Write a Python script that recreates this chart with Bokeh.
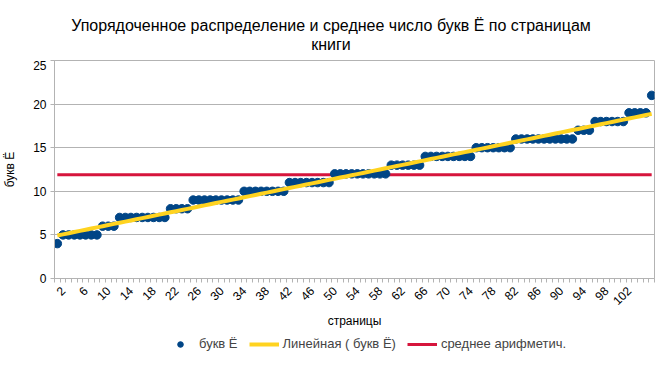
import numpy as np
from bokeh.plotting import figure
from bokeh.layouts import column
from bokeh.models import (ColumnDataSource, FixedTicker, Label, Legend, LegendItem, Range1d)
from bokeh.embed import file_html
from bokeh.resources import INLINE

# ---- data ----
pages = list(range(1, 107))
letters = ([4] + [5] * 7 + [6] * 3 + [7] * 9 + [8] * 4 + [9] * 9 + [10] * 8 + [11] * 8 +
           [12] * 10 + [13] * 6 + [14] * 9 + [15] * 7 + [16] * 11 + [17] * 3 +
           [18] * 6 + [19] * 4 + [21])
x_tick_labels = list(range(2, 103, 4))
y_ticks = [0, 5, 10, 15, 20, 25]
title_lines = ["Упорядоченное распределение и среднее число букв Ё по страницам", "книги"]
series_names = ["букв Ё", "Линейная ( букв Ё)", "среднее арифметич."]

FONT = "Liberation Sans"
BLUE = "#004586"
YELLOW = "#ffd320"
RED = "#d6153c"
GRID = "#b3b3b3"
W = 649

x = np.array(pages, dtype=float)
y = np.array(letters, dtype=float)
k, b = np.polyfit(x, y, 1)
trend = k * x + b
mean_val = float(y.mean())
src = ColumnDataSource(dict(x=x, y=y, trend=trend, mean=[mean_val] * len(x)))

# ---------- title strip ----------
pt = figure(width=W, height=60, output_backend="svg", toolbar_location=None,
            x_axis_type=None, y_axis_type=None, min_border=0,
            x_range=Range1d(0, 1), y_range=Range1d(0, 1))
pt.outline_line_color = None
pt.grid.visible = False
for txt, yy in zip(title_lines, (35, 16)):
    pt.add_layout(Label(x=276.5, y=yy, x_units="screen", y_units="screen", text=txt,
                        text_align="center", text_baseline="middle",
                        text_font=FONT, text_font_size="16px", text_color="#000000"))

# ---------- main plot ----------
p = figure(frame_width=600, frame_height=218, output_backend="svg", toolbar_location=None,
           x_range=Range1d(0.5, len(pages) + 0.5), y_range=Range1d(0, 25),
           min_border_left=44, min_border_right=5, min_border_top=0, min_border_bottom=57)

r_mean = p.line("x", "mean", source=src, line_color=RED, line_width=3)
r_pts = p.scatter("x", "y", source=src, size=8.5, marker="circle",
                  fill_color=BLUE, line_color=BLUE)
r_trend = p.line("x", "trend", source=src, line_color=YELLOW, line_width=4)

xt = FixedTicker(ticks=x_tick_labels,
                 minor_ticks=[i + 0.5 for i in range(0, len(pages) + 1)])
p.xaxis.ticker = xt
p.xaxis.major_tick_line_color = None
p.xaxis.minor_tick_out = 4
p.xaxis.minor_tick_in = 0
p.xaxis.minor_tick_line_color = GRID
p.xaxis.major_label_orientation = np.pi / 4
p.xaxis.axis_label = "страницы"
p.yaxis.ticker = FixedTicker(ticks=y_ticks)
p.yaxis.minor_tick_line_color = None
p.yaxis.major_tick_out = 4
p.yaxis.major_tick_in = 0
p.yaxis.major_tick_line_color = GRID
p.yaxis.axis_label = "букв Ё"

for ax in (p.xaxis[0], p.yaxis[0]):
    ax.axis_line_color = GRID
    ax.major_label_text_font = FONT
    ax.major_label_text_font_size = "12px"
    ax.major_label_text_color = "#000000"
    ax.axis_label_text_font = FONT
    ax.axis_label_text_font_size = "12px"
    ax.axis_label_text_font_style = "normal"
    ax.axis_label_text_color = "#000000"
    ax.major_label_standoff = 4
p.xaxis.axis_label_standoff = 2
p.yaxis.axis_label_standoff = 13

p.xgrid.grid_line_color = None
p.ygrid.ticker = FixedTicker(ticks=y_ticks)
p.ygrid.grid_line_color = GRID
p.outline_line_color = GRID

# ---------- legend strip ----------
pl = figure(width=W, height=16, output_backend="svg", toolbar_location=None,
            x_axis_type=None, y_axis_type=None, min_border=0,
            x_range=Range1d(-10, -9), y_range=Range1d(-10, -9))
pl.outline_line_color = None
pl.grid.visible = False
l_pts = pl.scatter("x", "y", source=src, size=8.5, marker="circle",
                   fill_color=BLUE, line_color=BLUE)
l_trend = pl.line("x", "trend", source=src, line_color=YELLOW, line_width=4)
l_mean = pl.line("x", "mean", source=src, line_color=RED, line_width=3)
legend = Legend(items=[LegendItem(label=series_names[0], renderers=[l_pts]),
                       LegendItem(label=series_names[1], renderers=[l_trend]),
                       LegendItem(label=series_names[2], renderers=[l_mean])],
                orientation="horizontal", location=(111, 0),
                label_text_font=FONT, label_text_font_size="13px",
                border_line_color=None, background_fill_alpha=0,
                glyph_width=30, glyph_height=14, spacing=11, label_standoff=4,
                padding=1, margin=0)
pl.add_layout(legend, "center")

layout = column(pt, p, pl, spacing=0)
open("out.html", "w").write(file_html(layout, INLINE))
